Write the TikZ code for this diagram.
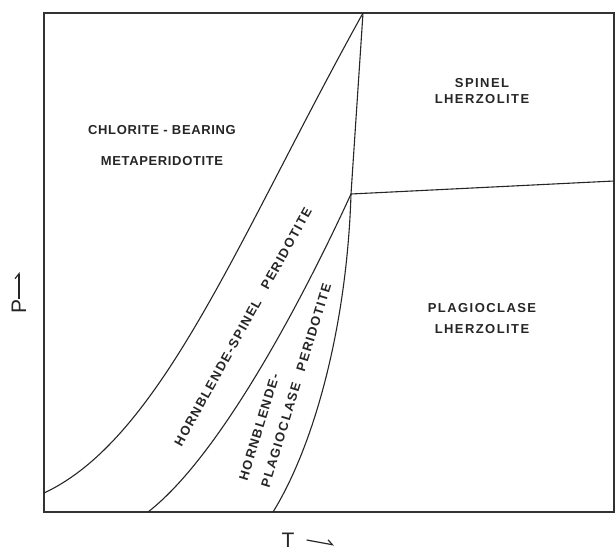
\documentclass[tikz,border=0pt]{standalone}
\usepackage{fontspec}
\usetikzlibrary{arrows.meta}
\newfontfamily\fieldfont[LetterSpace=11]{Liberation Sans}
\newfontfamily\chlfont[LetterSpace=5]{Liberation Sans}
\newfontfamily\axisfont{Liberation Sans}
\tikzset{
    frame/.style={draw=black!80, line width=1.8pt},
    boundary/.style={draw=black!85, line width=1.1pt},
    field/.style={font=\fieldfont\bfseries\fontsize{13}{15}\selectfont, align=center, inner sep=1pt, text=black!85},
    chlfield/.style={field, font=\chlfont\bfseries\fontsize{13}{15}\selectfont},
    axislabel/.style={font=\axisfont\fontsize{21}{22}\selectfont, inner sep=0pt, text=black!85},
    axisarrow/.style={draw=black!85, line width=1.2pt, -{Straight Barb[harpoon, length=5pt, width=8pt]}}
}

\begin{document}
\begin{tikzpicture}[x=1pt, y=-1pt]
    \useasboundingbox (0,0) rectangle (615,551);

    % corners and points
    \coordinate (nw) at (44,13);
    \coordinate (se) at (614,512);
    \coordinate (tp) at (351,194);
    \coordinate (top) at (363,13);
    \coordinate (east) at (614,181);
    \coordinate (aleft) at (44,493);
    \coordinate (bfoot) at (148,512);
    \coordinate (cfoot) at (273,512);

    % frame
    \draw[frame] (nw) rectangle (se);

    % boundaries
    \draw[boundary] (aleft) .. controls (162,438) and (239,236) .. (top);
    \draw[boundary] (bfoot) .. controls (219,457) and (301,303) .. (tp);
    \draw[boundary] (cfoot) .. controls (315,444) and (347,324) .. (tp);
    \draw[boundary] (tp) -- (top);
    \draw[boundary] (tp) -- (east);

    % fields
    \node[chlfield] (chl) at (162,146) {CHLORITE - BEARING\\[16pt] METAPERIDOTITE};
    \node[field] (spl) at (482,91) {SPINEL\\[1pt] LHERZOLITE};
    \node[field] (plg) at (482,319) {PLAGIOCLASE\\[6pt] LHERZOLITE};
    \node[field, rotate=61] (hbs) at (243,327) {HORNBLENDE-SPINEL\quad PERIDOTITE};
    \node[field, rotate=73, align=left] (hbp) at (285,382) {HORNBLENDE-\\[8pt] PLAGIOCLASE\quad PERIDOTITE};

    % axes
    \node[axislabel, rotate=90] (P) at (19,306) {P};
    \coordinate (Ptip) at (19,272);
    \draw[axisarrow] (P) -- (Ptip);
    \node[axislabel] (T) at (288,540) {T};
    \coordinate (Ttip) at (334,545);
    \draw[axisarrow] ([xshift=12pt]T.east) -- (Ttip);
\end{tikzpicture}
\end{document}
